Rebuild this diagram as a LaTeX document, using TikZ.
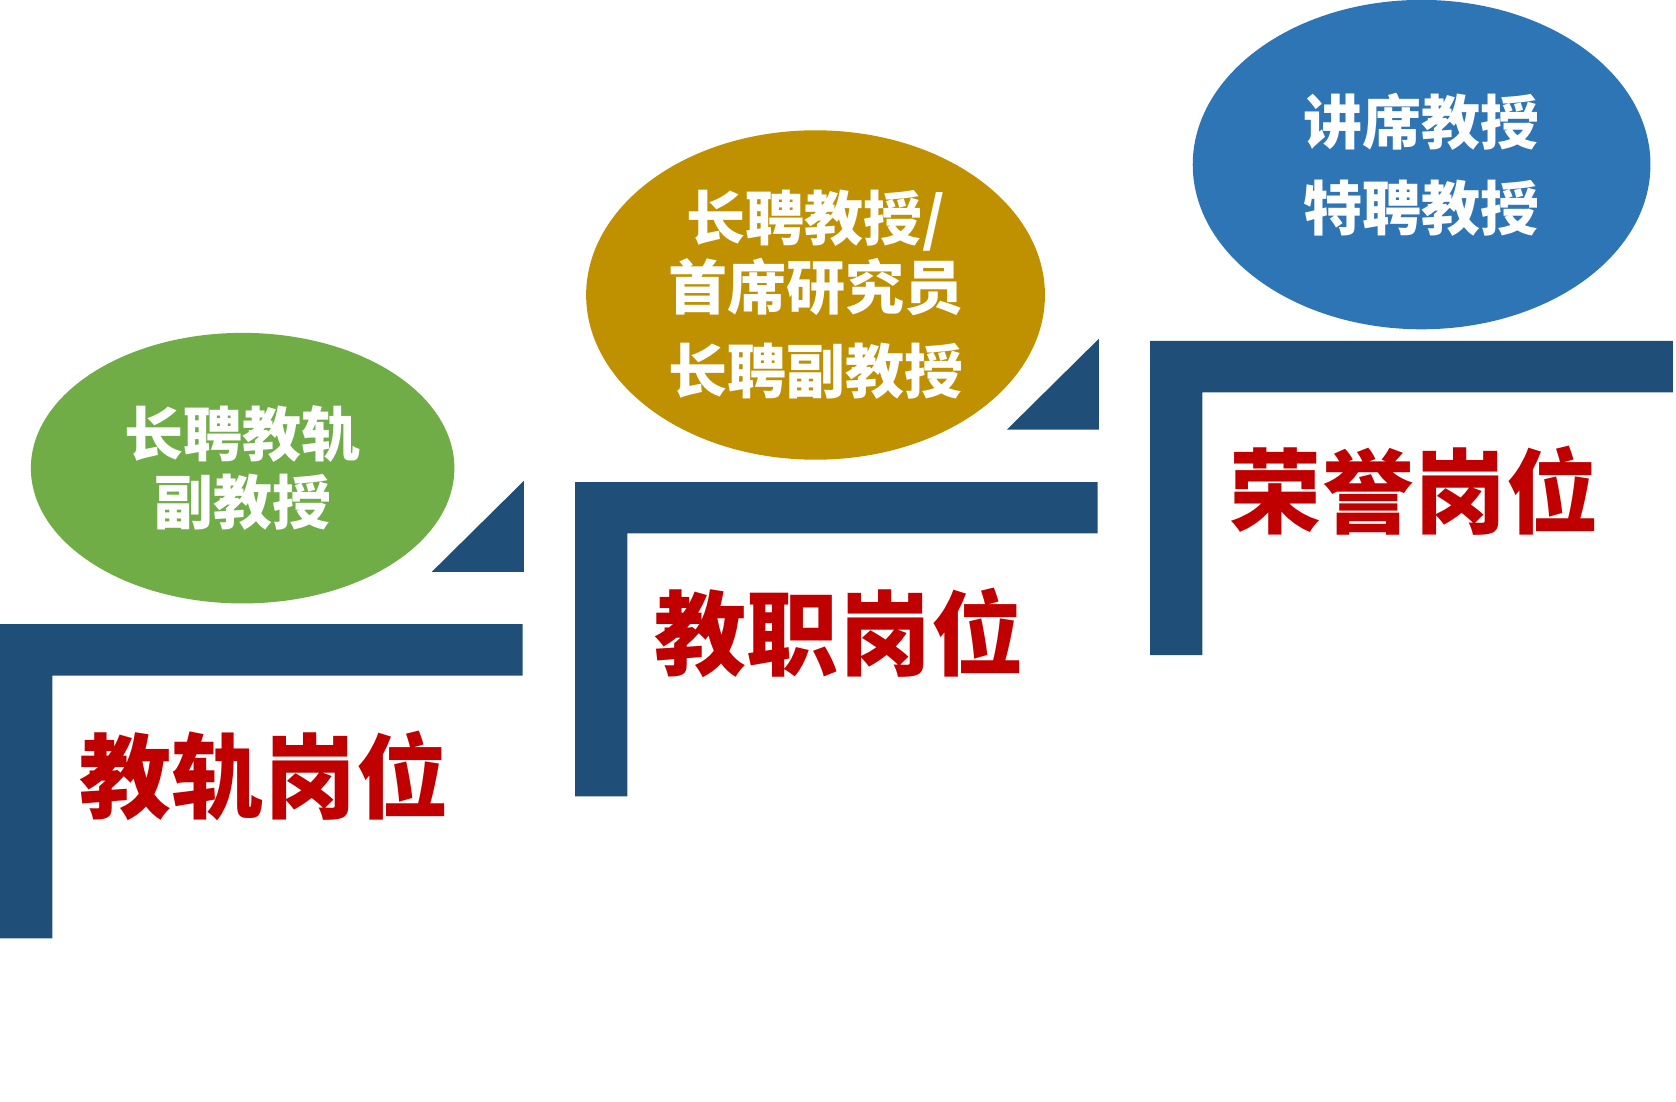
\documentclass[tikz,border=0pt]{standalone}
\usepackage{fontspec}
\newfontfamily\cjk{Noto Sans CJK SC}
\usepackage{xcolor}
\usetikzlibrary{shapes.geometric, positioning}

\definecolor{stepnavy}{HTML}{1F4E79}
\definecolor{postred}{HTML}{C00000}
\definecolor{trackgreen}{HTML}{70AD47}
\definecolor{tenuregold}{HTML}{BF9000}
\definecolor{honourblue}{HTML}{2E75B6}

\tikzset{
  bubble/.style={ellipse, inner sep=0pt, text=white, align=center,
    font=\cjk\bfseries\fontsize{15.7}{18.2}\selectfont},
  postlabel/.style={text=postred, inner sep=0pt,
    font=\cjk\bfseries\fontsize{24.5}{30}\selectfont},
  stepbar/.style={fill=stepnavy, draw=none},
}

\begin{document}
\begin{tikzpicture}[x=0.01cm, y=-0.01cm]
    \useasboundingbox (0,0) rectangle (1568,1031);

    % stair brackets
    \foreach \dx/\dy in {0/0, 538/133, 1076/265} {
        \fill[stepbar] (\dx,584-\dy) -- (\dx+489,584-\dy) -- (\dx+489,632-\dy)
            -- (\dx+49,632-\dy) -- (\dx+49,878-\dy) -- (\dx,878-\dy) -- cycle;
    }

    % corner triangles
    \foreach \dx/\dy in {0/0, 538/133} {
        \fill[stepbar] (\dx+404,535-\dy) -- (\dx+490,535-\dy) -- (\dx+490,450-\dy) -- cycle;
    }

    % bubbles
    \node[bubble, fill=trackgreen, minimum width=3.96cm, minimum height=2.53cm]
        (track) at (227,438) {长聘教轨\\副教授};
    \node[bubble, fill=tenuregold, minimum width=4.29cm, minimum height=3.08cm]
        (tenure) at (763,276) {长聘教授/\\首席研究员\\[0.15cm]长聘副教授};
    \node[bubble, fill=honourblue, minimum width=4.28cm, minimum height=3.08cm]
        (honour) at (1330,154) {讲席教授\\[0.16cm]特聘教授};

    % post labels
    \node[postlabel] (trackpost) at (247,726) {教轨岗位};
    \node[postlabel] (tenurepost) at (785,592) {教职岗位};
    \node[postlabel] (honourpost) at (1323,459) {荣誉岗位};
\end{tikzpicture}
\end{document}
